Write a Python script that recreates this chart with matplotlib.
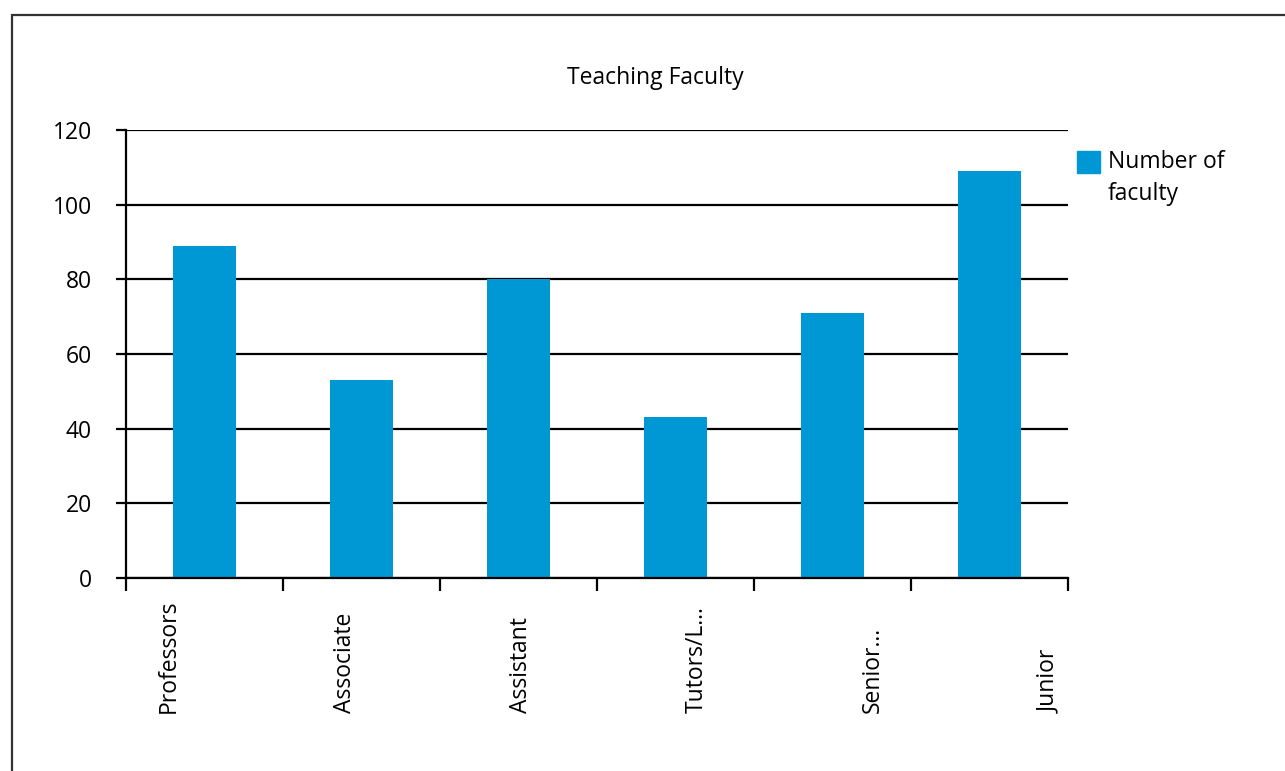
import numpy as np
import matplotlib
matplotlib.use("Agg")
import matplotlib.pyplot as plt
from matplotlib.patches import Rectangle

categories = ["Professors", "Associate", "Assistant", "Tutors/L...", "Senior...", "Junior"]
faculty = [89, 53, 80, 43, 71, 109]
y_ticks = [0, 20, 40, 60, 80, 100, 120]
series_name = "Number of\nfaculty"

plt.rcParams['font.family'] = ['Open Sans', 'DejaVu Sans']
bar_color = '#0097d5'
fs = 16.5

fig = plt.figure(figsize=(12.85, 7.71), dpi=100)
W, H = 1285, 771

# outer frame, only left and top edges are visible in the picture
fig.patches.append(Rectangle((12 / W, -0.5), 1.5, 1.5 - 15 / H, transform=fig.transFigure,
                             fill=False, edgecolor='#333333', linewidth=1.6))

ax = fig.add_axes([126 / W, (H - 578) / H, (1068 - 126) / W, 448 / H])

x = np.arange(len(categories))
ax.bar(x, faculty, width=0.4, color=bar_color, zorder=3)

ax.set_xlim(-0.5, len(categories) - 0.5)
ax.set_ylim(0, 120)
ax.set_yticks(y_ticks)
ax.set_yticklabels([str(v) for v in y_ticks], fontsize=fs)
ax.yaxis.grid(True, color='black', linewidth=1.6, zorder=0)
ax.tick_params(axis='y', length=7.5, width=1.6, pad=17)
for t in ax.get_yticklabels():
    t.set_va('center_baseline')

# tick marks on category boundaries, labels placed separately
ax.set_xticks(np.arange(len(categories) + 1) - 0.5)
ax.set_xticklabels([])
ax.tick_params(axis='x', length=9, width=1.6, direction='out')

label_x = -0.23 + np.arange(len(categories)) * 1.122
for lx, name in zip(label_x, categories):
    ax.text(lx, -0.301, name, rotation=90, ha='center', va='bottom', fontsize=fs,
            transform=ax.get_xaxis_transform(), clip_on=False)

for s in ['top', 'right']:
    ax.spines[s].set_visible(False)
for s in ['left', 'bottom']:
    ax.spines[s].set_linewidth(1.6)
    ax.spines[s].set_zorder(4)

fig.text(655 / W, 1 - 78 / H, 'Teaching Faculty', ha='center', va='center', fontsize=fs)

# legend: square key aligned with the first line of the label
fig.patches.append(Rectangle((1077 / W, 1 - 173 / H), 23 / W, 22 / H,
                             transform=fig.transFigure, color=bar_color))
fig.text(1108 / W, 1 - 150 / H, series_name, ha='left', va='top', fontsize=fs,
         linespacing=1.45)

fig.savefig('out.png', dpi=100, facecolor='white')
